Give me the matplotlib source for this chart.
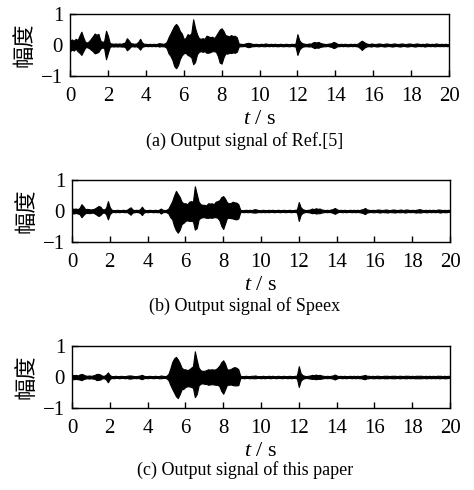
""" Output signals of three noise suppression methods """

import numpy as np
import matplotlib
matplotlib.use('Agg')
import matplotlib.pyplot as plt

plt.rcParams['font.family'] = ['Liberation Serif', 'Noto Sans CJK SC']
plt.rcParams['mathtext.fontset'] = 'custom'
plt.rcParams['mathtext.rm'] = 'Liberation Serif'
plt.rcParams['mathtext.it'] = 'Liberation Serif:italic'

#!time grid, 0.1 s step
t = np.round(np.arange(201) * 0.1, 1)

#!envelope of the waveform (upper / lower)
up_a = [
    0.15, 0.18, 0.14, 0.20, 0.16, 0.30, 0.43, 0.25, 0.10, 0.08,
    0.12, 0.20, 0.28, 0.37, 0.33, 0.36, 0.15, 0.10, 0.12, 0.46,
    0.30, 0.06, 0.05, 0.04, 0.05, 0.04, 0.05, 0.04, 0.06, 0.08,
    0.22, 0.15, 0.06, 0.05, 0.04, 0.05, 0.10, 0.20, 0.08, 0.04,
    0.04, 0.03, 0.04, 0.03, 0.04, 0.03, 0.04, 0.06, 0.05, 0.04,
    0.05, 0.10, 0.25, 0.37, 0.50, 0.62, 0.68, 0.60, 0.45, 0.37,
    0.20, 0.22, 0.35, 0.32, 0.38, 0.83, 0.55, 0.35, 0.22, 0.20,
    0.22, 0.20, 0.30, 0.28, 0.25, 0.27, 0.22, 0.30, 0.40, 0.50,
    0.54, 0.45, 0.32, 0.30, 0.28, 0.32, 0.29, 0.30, 0.25, 0.05,
    0.04, 0.03, 0.04, 0.06, 0.07, 0.06, 0.04, 0.03, 0.04, 0.03,
    0.03, 0.04, 0.03, 0.05, 0.04, 0.03, 0.04, 0.03, 0.04, 0.03,
    0.03, 0.04, 0.03, 0.03, 0.04, 0.03, 0.03, 0.04, 0.03, 0.05,
    0.35, 0.15, 0.08, 0.05, 0.04, 0.03, 0.05, 0.04, 0.08, 0.10,
    0.08, 0.10, 0.07, 0.05, 0.04, 0.03, 0.04, 0.05, 0.06, 0.10,
    0.08, 0.04, 0.03, 0.04, 0.03, 0.04, 0.03, 0.03, 0.04, 0.03,
    0.04, 0.03, 0.05, 0.10, 0.14, 0.10, 0.06, 0.04, 0.03, 0.05,
    0.04, 0.03, 0.04, 0.05, 0.04, 0.03, 0.04, 0.05, 0.04, 0.03,
    0.04, 0.05, 0.04, 0.03, 0.04, 0.05, 0.04, 0.03, 0.04, 0.05,
    0.04, 0.03, 0.04, 0.05, 0.04, 0.03, 0.04, 0.03, 0.05, 0.04,
    0.03, 0.04, 0.03, 0.05, 0.04, 0.03, 0.04, 0.03, 0.04, 0.03,
    0.03,
]
lo_a = [
    -0.20, -0.15, -0.18, -0.12, -0.20, -0.25, -0.32, -0.20, -0.08, -0.07,
    -0.10, -0.15, -0.20, -0.27, -0.25, -0.22, -0.12, -0.08, -0.10, -0.46,
    -0.25, -0.06, -0.04, -0.05, -0.04, -0.05, -0.04, -0.05, -0.05, -0.06,
    -0.17, -0.12, -0.05, -0.04, -0.05, -0.04, -0.08, -0.15, -0.06, -0.04,
    -0.03, -0.04, -0.03, -0.04, -0.03, -0.04, -0.03, -0.05, -0.04, -0.04,
    -0.05, -0.10, -0.27, -0.35, -0.48, -0.68, -0.75, -0.65, -0.45, -0.33,
    -0.27, -0.25, -0.32, -0.35, -0.40, -0.62, -0.55, -0.30, -0.22, -0.20,
    -0.22, -0.20, -0.25, -0.25, -0.23, -0.20, -0.20, -0.22, -0.35, -0.57,
    -0.60, -0.40, -0.27, -0.28, -0.25, -0.26, -0.24, -0.25, -0.22, -0.05,
    -0.04, -0.04, -0.03, -0.05, -0.07, -0.06, -0.04, -0.04, -0.03, -0.04,
    -0.04, -0.03, -0.04, -0.04, -0.03, -0.04, -0.03, -0.04, -0.03, -0.04,
    -0.04, -0.03, -0.04, -0.04, -0.03, -0.04, -0.04, -0.03, -0.04, -0.05,
    -0.32, -0.15, -0.08, -0.05, -0.04, -0.04, -0.05, -0.04, -0.07, -0.10,
    -0.08, -0.09, -0.06, -0.05, -0.04, -0.04, -0.03, -0.05, -0.06, -0.10,
    -0.08, -0.04, -0.04, -0.03, -0.04, -0.03, -0.04, -0.04, -0.03, -0.04,
    -0.03, -0.04, -0.05, -0.10, -0.16, -0.10, -0.06, -0.04, -0.04, -0.05,
    -0.03, -0.04, -0.05, -0.04, -0.03, -0.04, -0.05, -0.04, -0.03, -0.04,
    -0.05, -0.04, -0.03, -0.04, -0.05, -0.04, -0.03, -0.04, -0.05, -0.04,
    -0.03, -0.04, -0.05, -0.04, -0.03, -0.04, -0.03, -0.05, -0.04, -0.03,
    -0.04, -0.03, -0.04, -0.04, -0.03, -0.04, -0.03, -0.04, -0.03, -0.04,
    -0.03,
]

up_b = [
    0.08, 0.07, 0.08, 0.06, 0.10, 0.22, 0.15, 0.06, 0.07, 0.06,
    0.05, 0.06, 0.08, 0.12, 0.16, 0.14, 0.06, 0.05, 0.10, 0.32,
    0.12, 0.04, 0.03, 0.03, 0.04, 0.03, 0.03, 0.04, 0.03, 0.04,
    0.08, 0.12, 0.05, 0.03, 0.04, 0.03, 0.06, 0.14, 0.05, 0.03,
    0.03, 0.04, 0.03, 0.03, 0.04, 0.03, 0.04, 0.08, 0.04, 0.03,
    0.04, 0.08, 0.20, 0.32, 0.50, 0.65, 0.55, 0.45, 0.30, 0.25,
    0.25, 0.22, 0.30, 0.32, 0.30, 0.80, 0.55, 0.30, 0.22, 0.20,
    0.20, 0.18, 0.25, 0.24, 0.25, 0.22, 0.30, 0.32, 0.35, 0.45,
    0.48, 0.40, 0.28, 0.25, 0.26, 0.30, 0.28, 0.27, 0.22, 0.04,
    0.03, 0.03, 0.04, 0.03, 0.04, 0.03, 0.05, 0.06, 0.04, 0.03,
    0.03, 0.04, 0.03, 0.03, 0.04, 0.03, 0.04, 0.03, 0.03, 0.04,
    0.03, 0.03, 0.04, 0.03, 0.03, 0.04, 0.03, 0.03, 0.04, 0.05,
    0.29, 0.12, 0.06, 0.04, 0.03, 0.04, 0.05, 0.08, 0.06, 0.09,
    0.07, 0.08, 0.05, 0.04, 0.03, 0.04, 0.03, 0.05, 0.06, 0.10,
    0.06, 0.03, 0.04, 0.03, 0.04, 0.03, 0.03, 0.04, 0.03, 0.04,
    0.03, 0.04, 0.03, 0.05, 0.06, 0.10, 0.05, 0.04, 0.03, 0.04,
    0.03, 0.04, 0.05, 0.04, 0.03, 0.04, 0.05, 0.04, 0.03, 0.04,
    0.05, 0.04, 0.03, 0.04, 0.05, 0.03, 0.04, 0.05, 0.04, 0.03,
    0.04, 0.03, 0.04, 0.05, 0.06, 0.04, 0.03, 0.04, 0.03, 0.04,
    0.03, 0.04, 0.03, 0.04, 0.05, 0.04, 0.03, 0.04, 0.03, 0.04,
    0.03,
]
lo_b = [
    -0.07, -0.08, -0.06, -0.08, -0.10, -0.20, -0.13, -0.07, -0.06, -0.07,
    -0.06, -0.05, -0.08, -0.12, -0.16, -0.13, -0.06, -0.05, -0.10, -0.27,
    -0.10, -0.04, -0.03, -0.04, -0.03, -0.04, -0.03, -0.03, -0.04, -0.03,
    -0.07, -0.12, -0.05, -0.04, -0.03, -0.04, -0.06, -0.13, -0.05, -0.03,
    -0.04, -0.03, -0.03, -0.04, -0.03, -0.04, -0.03, -0.08, -0.04, -0.03,
    -0.04, -0.08, -0.20, -0.27, -0.48, -0.62, -0.70, -0.60, -0.42, -0.38,
    -0.32, -0.30, -0.32, -0.32, -0.33, -0.60, -0.55, -0.27, -0.22, -0.20,
    -0.20, -0.22, -0.22, -0.21, -0.22, -0.20, -0.20, -0.22, -0.30, -0.48,
    -0.58, -0.40, -0.22, -0.22, -0.23, -0.24, -0.26, -0.27, -0.24, -0.04,
    -0.03, -0.04, -0.03, -0.04, -0.03, -0.04, -0.05, -0.05, -0.04, -0.03,
    -0.04, -0.03, -0.04, -0.03, -0.04, -0.03, -0.03, -0.04, -0.03, -0.03,
    -0.04, -0.03, -0.03, -0.04, -0.03, -0.03, -0.04, -0.03, -0.03, -0.05,
    -0.32, -0.12, -0.06, -0.04, -0.03, -0.04, -0.05, -0.07, -0.06, -0.08,
    -0.07, -0.07, -0.05, -0.04, -0.03, -0.04, -0.03, -0.04, -0.06, -0.09,
    -0.06, -0.03, -0.03, -0.04, -0.03, -0.04, -0.03, -0.03, -0.04, -0.03,
    -0.04, -0.03, -0.04, -0.05, -0.07, -0.10, -0.05, -0.04, -0.03, -0.04,
    -0.04, -0.03, -0.04, -0.05, -0.03, -0.04, -0.04, -0.05, -0.03, -0.04,
    -0.04, -0.05, -0.03, -0.04, -0.04, -0.03, -0.05, -0.04, -0.03, -0.04,
    -0.03, -0.04, -0.05, -0.04, -0.05, -0.04, -0.03, -0.04, -0.04, -0.03,
    -0.04, -0.03, -0.04, -0.03, -0.04, -0.05, -0.03, -0.04, -0.04, -0.03,
    -0.03,
]

up_c = [
    0.07, 0.06, 0.07, 0.05, 0.08, 0.10, 0.08, 0.05, 0.04, 0.05,
    0.04, 0.05, 0.07, 0.10, 0.10, 0.08, 0.04, 0.04, 0.08, 0.15,
    0.06, 0.03, 0.03, 0.04, 0.03, 0.03, 0.04, 0.03, 0.03, 0.04,
    0.05, 0.05, 0.04, 0.03, 0.03, 0.04, 0.05, 0.07, 0.04, 0.03,
    0.03, 0.04, 0.03, 0.03, 0.04, 0.03, 0.03, 0.05, 0.04, 0.03,
    0.04, 0.10, 0.27, 0.48, 0.60, 0.65, 0.57, 0.45, 0.30, 0.25,
    0.25, 0.22, 0.25, 0.30, 0.35, 0.83, 0.55, 0.30, 0.22, 0.20,
    0.20, 0.22, 0.25, 0.24, 0.25, 0.24, 0.25, 0.30, 0.37, 0.48,
    0.54, 0.43, 0.25, 0.24, 0.26, 0.30, 0.32, 0.30, 0.25, 0.04,
    0.03, 0.03, 0.04, 0.03, 0.03, 0.04, 0.04, 0.05, 0.03, 0.03,
    0.03, 0.04, 0.03, 0.03, 0.04, 0.03, 0.04, 0.03, 0.03, 0.04,
    0.03, 0.03, 0.04, 0.03, 0.03, 0.04, 0.03, 0.03, 0.04, 0.05,
    0.35, 0.12, 0.06, 0.04, 0.03, 0.04, 0.05, 0.07, 0.06, 0.08,
    0.06, 0.07, 0.05, 0.04, 0.03, 0.04, 0.03, 0.04, 0.05, 0.08,
    0.05, 0.03, 0.04, 0.03, 0.04, 0.03, 0.03, 0.04, 0.03, 0.04,
    0.03, 0.04, 0.03, 0.04, 0.05, 0.07, 0.04, 0.04, 0.03, 0.04,
    0.03, 0.04, 0.04, 0.03, 0.03, 0.04, 0.04, 0.04, 0.03, 0.04,
    0.04, 0.04, 0.03, 0.04, 0.04, 0.03, 0.04, 0.04, 0.04, 0.03,
    0.04, 0.03, 0.04, 0.04, 0.04, 0.04, 0.03, 0.04, 0.03, 0.04,
    0.03, 0.04, 0.03, 0.04, 0.04, 0.04, 0.03, 0.04, 0.03, 0.04,
    0.03,
]
lo_c = [
    -0.07, -0.07, -0.06, -0.07, -0.08, -0.10, -0.07, -0.05, -0.04, -0.05,
    -0.04, -0.05, -0.06, -0.10, -0.09, -0.08, -0.04, -0.04, -0.08, -0.17,
    -0.06, -0.03, -0.04, -0.03, -0.03, -0.04, -0.03, -0.03, -0.04, -0.03,
    -0.05, -0.05, -0.04, -0.03, -0.04, -0.03, -0.05, -0.07, -0.04, -0.03,
    -0.04, -0.03, -0.03, -0.04, -0.03, -0.03, -0.04, -0.04, -0.03, -0.03,
    -0.04, -0.10, -0.25, -0.38, -0.50, -0.62, -0.68, -0.55, -0.40, -0.38,
    -0.32, -0.30, -0.30, -0.32, -0.35, -0.65, -0.55, -0.27, -0.22, -0.20,
    -0.22, -0.22, -0.25, -0.24, -0.23, -0.24, -0.25, -0.25, -0.30, -0.45,
    -0.54, -0.40, -0.25, -0.25, -0.24, -0.26, -0.27, -0.27, -0.26, -0.04,
    -0.03, -0.04, -0.03, -0.03, -0.04, -0.03, -0.04, -0.04, -0.03, -0.03,
    -0.04, -0.03, -0.04, -0.03, -0.03, -0.04, -0.03, -0.03, -0.04, -0.03,
    -0.03, -0.04, -0.03, -0.03, -0.04, -0.03, -0.04, -0.03, -0.03, -0.05,
    -0.32, -0.12, -0.06, -0.04, -0.03, -0.04, -0.05, -0.06, -0.06, -0.07,
    -0.06, -0.06, -0.05, -0.04, -0.03, -0.04, -0.03, -0.04, -0.05, -0.08,
    -0.05, -0.03, -0.03, -0.04, -0.03, -0.04, -0.03, -0.03, -0.04, -0.03,
    -0.04, -0.03, -0.04, -0.04, -0.06, -0.07, -0.04, -0.04, -0.03, -0.04,
    -0.04, -0.03, -0.04, -0.04, -0.03, -0.04, -0.04, -0.04, -0.03, -0.04,
    -0.04, -0.04, -0.03, -0.04, -0.04, -0.03, -0.04, -0.04, -0.03, -0.04,
    -0.03, -0.04, -0.04, -0.04, -0.04, -0.04, -0.03, -0.04, -0.04, -0.03,
    -0.04, -0.03, -0.04, -0.03, -0.04, -0.04, -0.03, -0.04, -0.04, -0.03,
    -0.03,
]

captions = [
    '(a) Output signal of Ref.[5]',
    '(b) Output signal of Speex',
    '(c) Output signal of this paper',
]
x_ticks = list(range(0, 21, 2))
y_ticks = [-1, 0, 1]
y_tick_labels = ['\u22121', '0', '1']

#!axes positions in figure fraction (left, bottom, width, height)
fig = plt.figure(figsize=(4.74, 4.90), dpi=100)
rects = [
    (0.1477, 0.8449, 0.7996, 0.1265),
    (0.1519, 0.5061, 0.7975, 0.1265),
    (0.1519, 0.1673, 0.7975, 0.1265),
]
caption_y = [0.712, 0.376, 0.040]
signals = [(up_a, lo_a), (up_b, lo_b), (up_c, lo_c)]

for rect, (up, lo), cap, cy in zip(rects, signals, captions, caption_y):
    ax = fig.add_axes(rect)
    ax.fill_between(t, lo, up, color='black', linewidth=0.8)
    ax.set_xlim(0, 20)
    ax.set_ylim(-1, 1)
    ax.set_xticks(x_ticks)
    ax.set_yticks(y_ticks)
    ax.set_yticklabels(y_tick_labels)
    ax.tick_params(direction='in', length=4, width=1, labelsize=15)
    ax.tick_params(axis='x', pad=8)
    ax.tick_params(axis='y', pad=5)
    for s in ax.spines.values():
        s.set_linewidth(1)
    ax.set_xlabel('$t$ / s', fontsize=16, labelpad=3)
    ax.set_ylabel('幅度', fontsize=16, family=['Noto Sans CJK SC'], labelpad=4)
    fig.text(0.517, cy, cap, ha='center', va='center', fontsize=13)

plt.savefig('out.png', dpi=100)
